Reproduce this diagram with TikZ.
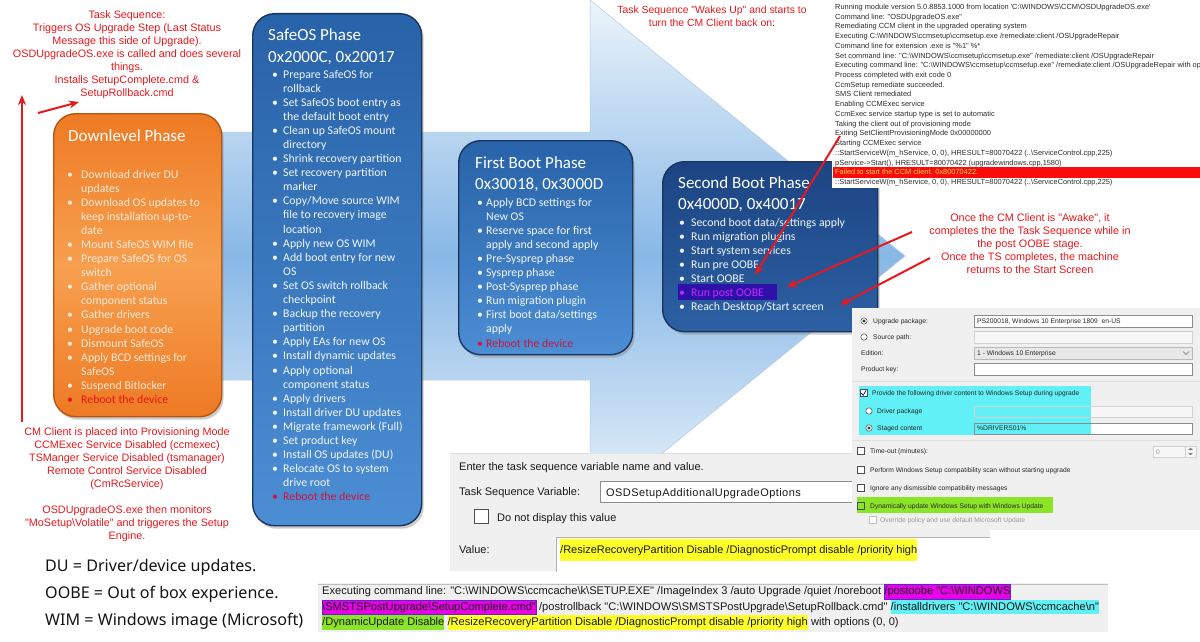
\documentclass[tikz,border=0pt]{standalone}
\usepackage{fontspec}
\setmainfont{Carlito}
\newfontfamily\arialf{Liberation Sans}
\newfontfamily\segoef{Noto Sans}
\usetikzlibrary{arrows.meta,shadows}
\definecolor{redc}{RGB}{230,25,30}
\definecolor{orgA}{RGB}{238,122,36}
\definecolor{orgB}{RGB}{247,160,80}
\definecolor{orgE}{RGB}{178,86,20}
\definecolor{bluA}{RGB}{40,98,168}
\definecolor{bluB}{RGB}{76,142,212}
\definecolor{bluE}{RGB}{26,52,92}
\definecolor{navA}{RGB}{28,68,130}
\definecolor{navB}{RGB}{44,96,164}
\definecolor{arrL}{RGB}{236,244,251}
\definecolor{arrM}{RGB}{136,184,230}
\definecolor{arrE}{RGB}{180,205,230}
\definecolor{boxtxt}{RGB}{242,247,253}
\definecolor{cream}{RGB}{253,233,215}
\definecolor{rebootB}{RGB}{205,20,60}
\definecolor{rebootO}{RGB}{232,20,24}
\definecolor{dlg}{RGB}{240,240,240}
\definecolor{hlY}{RGB}{255,255,40}
\definecolor{hlC}{RGB}{96,240,246}
\definecolor{hlG}{RGB}{140,228,40}
\definecolor{hlM}{RGB}{232,0,232}
\definecolor{hlMb}{RGB}{90,40,200}
\definecolor{postbg}{RGB}{46,18,168}
\definecolor{posttx}{RGB}{196,40,255}
\definecolor{failbar}{RGB}{250,12,12}
\definecolor{failtx}{RGB}{255,214,70}
\definecolor{logtx}{RGB}{45,45,45}
\newcommand{\bksl}{\textbackslash}
\newcommand{\bItem}[1]{\textbullet & #1\\}
\newcommand{\bCont}[1]{& #1\\}
\newcommand{\rItem}[2]{\textcolor{#1}{\textbullet} & \textcolor{#1}{#2}\\}
\newcommand{\bList}[2]{\begin{tabular}[t]{@{}p{#1}@{}l@{}}#2\end{tabular}}
\newcommand{\cCol}[1]{\begin{tabular}[t]{@{}c@{}}#1\end{tabular}}
\newcommand{\lCol}[1]{\begin{tabular}[t]{@{}l@{}}#1\end{tabular}}
\begin{document}
\begin{tikzpicture}[x=1pt,y=-1pt,
 phasebox/.style={rounded corners=22pt, line width=1.4pt, anchor=north west, inner sep=0, drop shadow={opacity=0.4, shadow xshift=2pt, shadow yshift=-3pt}},
 ttl/.style={anchor=base west, inner sep=0, text=white, font=\fontsize{17}{20.5}\selectfont},
 lst/.style={anchor=base west, inner sep=0, font=\fontsize{11.8}{14.1}\selectfont},
 rednote/.style={anchor=base, inner sep=0, text=redc, font=\arialf\fontsize{10.8}{12.9}\selectfont},
 redarrow/.style={draw=redc, line width=2pt, -{Stealth[length=10pt,width=8pt]}},
 logline/.style={anchor=base west, inner sep=0, text=logtx, font=\arialf\fontsize{7.4}{9.72}\selectfont},
 stx/.style={anchor=base west, inner sep=0, text=black!85, font=\arialf\fontsize{6.7}{8}\selectfont},
 tstx/.style={anchor=base west, inner sep=0, text=black!90, font=\arialf\fontsize{11}{16}\selectfont},
 blx/.style={anchor=base west, inner sep=0, text=black!90, font=\arialf\fontsize{11.1}{14.5}\selectfont},
 leg/.style={anchor=base west, inner sep=0, text=black!92, font=\segoef\fontsize{16.1}{18}\selectfont},
 rad/.style={draw=black!70, fill=white, line width=0.5pt},
 chk/.style={draw=black!70, fill=white, line width=0.5pt},
 tb/.style={draw=black!45, fill=white, line width=0.5pt},
 tbd/.style={draw=black!18, fill=black!3, line width=0.5pt},
 tbc/.style={draw=black!28, fill=black!9, line width=0.5pt}
]
\useasboundingbox (0,0) rectangle (1200,642);
\fill[white] (0,0) rectangle (1200,642);

% big process arrow
\path[top color=arrL, bottom color=arrL, middle color=arrM, draw=arrE, line width=0.5pt]
  (70,132) -- (590,132) -- (590,0) -- (905,256) -- (590,512) -- (590,380) -- (70,380) -- cycle;

% Downlevel phase
\node[phasebox, top color=orgA, bottom color=orgA, middle color=orgB, draw=orgE, minimum width=168pt, minimum height=303pt] (dlbox) at (53,113) {};
\node[ttl] (dlttl) at (68,141) {Downlevel Phase};
\node[lst, text=cream] (dllst) at (67,178) {\bList{14pt}{%
\bItem{Download driver DU}
\bCont{updates}
\bItem{Download OS updates to}
\bCont{keep installation up-to-}
\bCont{date}
\bItem{Mount SafeOS WIM file}
\bItem{Prepare SafeOS for OS}
\bCont{switch}
\bItem{Gather optional}
\bCont{component status}
\bItem{Gather drivers}
\bItem{Upgrade boot code}
\bItem{Dismount SafeOS}
\bItem{Apply BCD settings for}
\bCont{SafeOS}
\bItem{Suspend Bitlocker}
\rItem{rebootO}{Reboot the device}}};

% SafeOS phase
\node[phasebox, top color=bluA, bottom color=bluB, draw=bluE, minimum width=169pt, minimum height=512pt] (sfbox) at (252,13) {};
\node[ttl, font=\fontsize{17}{22}\selectfont] (sfttl) at (268,41) {\lCol{SafeOS Phase\\0x2000C, 0x20017}};
\node[lst, text=boxtxt] (sflst) at (272,78) {\bList{11pt}{%
\bItem{Prepare SafeOS for}
\bCont{rollback}
\bItem{Set SafeOS boot entry as}
\bCont{the default boot entry}
\bItem{Clean up SafeOS mount}
\bCont{directory}
\bItem{Shrink recovery partition}
\bItem{Set recovery partition}
\bCont{marker}
\bItem{Copy/Move source WIM}
\bCont{file to recovery image}
\bCont{location}
\bItem{Apply new OS WIM}
\bItem{Add boot entry for new}
\bCont{OS}
\bItem{Set OS switch rollback}
\bCont{checkpoint}
\bItem{Backup the recovery}
\bCont{partition}
\bItem{Apply EAs for new OS}
\bItem{Install dynamic updates}
\bItem{Apply optional}
\bCont{component status}
\bItem{Apply drivers}
\bItem{Install driver DU updates}
\bItem{Migrate framework (Full)}
\bItem{Set product key}
\bItem{Install OS updates (DU)}
\bItem{Relocate OS to system}
\bCont{drive root}
\rItem{rebootB}{Reboot the device}}};

% First boot phase
\node[phasebox, top color=bluA, bottom color=bluB, draw=bluE, minimum width=174pt, minimum height=214pt] (fbbox) at (458,140) {};
\node[ttl] (fbttl) at (475,168.5) {\lCol{First Boot Phase\\0x30018, 0x3000D}};
\node[lst, text=boxtxt] (fblst) at (477,206) {\bList{9pt}{%
\bItem{Apply BCD settings for}
\bCont{New OS}
\bItem{Reserve space for first}
\bCont{apply and second apply}
\bItem{Pre-Sysprep phase}
\bItem{Sysprep phase}
\bItem{Post-Sysprep phase}
\bItem{Run migration plugin}
\bItem{First boot data/settings}
\bCont{apply}
\rItem{rebootB}{Reboot the device}}};

% Second boot phase
\node[phasebox, top color=navA, bottom color=navB, draw=bluE, minimum width=215pt, minimum height=170pt] (sbbox) at (662,161) {};
\node[ttl] (sbttl) at (678,188.5) {\lCol{Second Boot Phase\\0x4000D, 0x40017}};
\fill[postbg] (678,284) rectangle (777,300);
\node[lst, text=boxtxt] (sblst) at (679,226) {\bList{12pt}{%
\bItem{Second boot data/settings apply}
\bItem{Run migration plugins}
\bItem{Start system services}
\bItem{Run pre OOBE}
\bItem{Start OOBE}
\rItem{posttx}{Run post OOBE}
\bItem{Reach Desktop/Start screen}}};

% log excerpt (top right)
\fill[white] (832,0) rectangle (1200,188);
\fill[failbar] (833,167) rectangle (1200,178);
\begin{scope}
\clip (832,0) rectangle (1200,188);
\node[logline] (log) at (835,9.5) {\lCol{%
Running module version 5.0.8853.1000 from location 'C:\bksl{}WINDOWS\bksl{}CCM\bksl{}OSDUpgradeOS.exe'\\
Command line: "OSDUpgradeOS.exe"\\
Remediating CCM client in the upgraded operating system\\
Executing C:\bksl{}WINDOWS\bksl{}ccmsetup\bksl{}ccmsetup.exe /remediate:client /OSUpgradeRepair\\
Command line for extension .exe is "\%1" \%*\\
Set command line: "C:\bksl{}WINDOWS\bksl{}ccmsetup\bksl{}ccmsetup.exe" /remediate:client /OSUpgradeRepair\\
Executing command line: "C:\bksl{}WINDOWS\bksl{}ccmsetup\bksl{}ccmsetup.exe" /remediate:client /OSUpgradeRepair with op\\
Process completed with exit code 0\\
CcmSetup remediate succeeded.\\
SMS Client remediated\\
Enabling CCMExec service\\
CcmExec service startup type is set to automatic\\
Taking the client out of provisioning mode\\
Exiting SetClientProvisioningMode 0x00000000\\
Starting CCMExec service\\
::StartServiceW(m\_hService, 0, 0), HRESULT=80070422 (..\bksl{}ServiceControl.cpp,225)\\
pService->Start(), HRESULT=80070422 (upgradewindows.cpp,1580)\\
\textcolor{failtx}{Failed to start the CCM client. 0x80070422.}\\
::StartServiceW(m\_hService, 0, 0), HRESULT=80070422 (..\bksl{}ServiceControl.cpp,225)}};
\end{scope}

% red notes
\node[rednote] (noteA) at (127,19) {\cCol{Task Sequence:\\Triggers OS Upgrade Step (Last Status\\Message this side of Upgrade).\\OSDUpgradeOS.exe is called and does several\\things.\\Installs SetupComplete.cmd \&\\SetupRollback.cmd}};
\node[rednote, font=\arialf\fontsize{10.8}{13}\selectfont] (noteB) at (127,435) {\cCol{CM Client is placed into Provisioning Mode\\CCMExec Service Disabled (ccmexec)\\TSManger Service Disabled (tsmanager)\\Remote Control Service Disabled\\(CmRcService)\\ \\OSDUpgradeOS.exe then monitors\\"MoSetup\bksl{}Volatile" and triggeres the Setup\\Engine.}};
\node[rednote, font=\arialf\fontsize{10.4}{13}\selectfont] (noteC) at (712,14) {\cCol{Task Sequence "Wakes Up" and starts to\\turn the CM Client back on:}};
\node[rednote, font=\arialf\fontsize{10.8}{13.2}\selectfont] (noteD) at (1030,221) {\cCol{Once the CM Client is "Awake", it\\completes the the Task Sequence while in\\the post OOBE stage.\\Once the TS completes, the machine\\returns to the Start Screen}};

% task sequence variable dialog
\fill[dlg] (450,453) rectangle (990,571);
\draw[black!12] (450,453) -- (990,453);
\node[tstx] (ts1) at (459,470) {Enter the task sequence variable name and value.};
\node[tstx] (ts2) at (459,495) {Task Sequence Variable:};
\draw[tb] (600,481) rectangle (870,502);
\node[tstx, font=\arialf\fontsize{11}{16}\addfontfeature{LetterSpace=4}] (ts2v) at (606,496) {OSDSetupAdditionalUpgradeOptions};
\draw[chk, line width=0.7pt] (474,509) rectangle (488,523);
\node[tstx] (ts3) at (497,521) {Do not display this value};
\node[tstx] (ts4) at (459,553) {Value:};
\fill[white] (556,537) rectangle (990,572);
\draw[black!30] (556,572) -- (556,537) -- (990,537);
\node[tstx] (tsval) at (560,553) {\colorbox{hlY}{\kern-3pt\strut /ResizeRecoveryPartition Disable /DiagnosticPrompt disable /priority high\kern-3pt}};

% upgrade OS step settings
\fill[dlg] (852,308) rectangle (1200,530);
\draw[rad] (864,321) circle (3.2pt); \fill[black!80] (864,321) circle (1.6pt);
\node[stx] (s1) at (873,323.5) {Upgrade package:};
\draw[tb] (974,315.5) rectangle (1192,327);
\node[stx] (s1v) at (977,323.5) {PS200018, Windows 10 Enterprise 1809\ \ en-US};
\draw[rad] (864,337) circle (3.2pt);
\node[stx] (s2) at (873,339.5) {Source path:};
\draw[tbd] (974,331.5) rectangle (1192,343);
\node[stx] (s3) at (861,355.5) {Edition:};
\draw[tbc] (974,347) rectangle (1192,359);
\node[stx] (s3v) at (977,355.5) {1 - Windows 10 Enterprise};
\draw[black!60, line width=0.5pt] (1183,351.5) -- (1186,354.5) -- (1189,351.5);
\node[stx] (s4) at (861,371.5) {Product key:};
\draw[tb] (974,363) rectangle (1192,375);
\draw[black!12] (852,381) -- (1200,381);
\draw[tbd] (974,406) rectangle (1192,417);
\draw[tb] (974,423) rectangle (1192,434);
\fill[hlC] (859,386) rectangle (1091,435);
\draw[black!18, line width=0.5pt] (974,406) rectangle (1192,417);
\draw[black!45, line width=0.5pt] (974,423) rectangle (1192,434);
\draw[chk] (860,389.5) rectangle (867,396.5);
\draw[blue!50!black, line width=0.7pt] (861.2,393) -- (863.2,395.3) -- (866,390.5);
\node[stx] (s5) at (872,395) {Provide the following driver content to Windows Setup during upgrade};
\draw[rad] (869,411) circle (3.2pt);
\node[stx] (s6) at (877,413.5) {Driver package};
\draw[rad] (869,428) circle (3.2pt); \fill[black!80] (869,428) circle (1.6pt);
\node[stx] (s7) at (877,430.5) {Staged content};
\node[stx] (s7v) at (977,430.5) {\%DRIVERS01\%};
\draw[black!12] (852,440) -- (1200,440);
\draw[chk] (857,447.5) rectangle (864,454.5);
\node[stx] (s8) at (870,453.5) {Time-out (minutes):};
\draw[tbd] (1153,446) rectangle (1196,457);
\node[stx, text=black!40] (s8v) at (1156,454) {0};
\draw[black!20] (1185,446) -- (1185,457);
\fill[black!50] (1188,450) -- (1190.5,447.8) -- (1193,450) -- cycle;
\fill[black!50] (1188,453) -- (1190.5,455.2) -- (1193,453) -- cycle;
\draw[chk] (857,466.5) rectangle (864,473.5);
\node[stx] (s9) at (870,472.5) {Perform Windows Setup compatibility scan without starting upgrade};
\draw[chk] (857,484.5) rectangle (864,491.5);
\node[stx] (s10) at (870,490.5) {Ignore any dismissible compatibility messages};
\fill[hlG] (857,497) rectangle (1053,513);
\draw[black!70, line width=0.5pt] (857,502) rectangle (864,509);
\node[stx] (s11) at (870,508.5) {Dynamically update Windows Setup with Windows Update};
\draw[black!25, fill=white, line width=0.5pt] (869,516.5) rectangle (876,523.5);
\node[stx, text=black!40] (s12) at (880,522.5) {Override policy and use default Microsoft Update};

% bottom log line
\fill[dlg] (318,583) rectangle (1108,632);
\draw[black!25, line width=1pt] (318,584) -- (1108,584);
\node[blx] (b1a) at (322,594.5) {\strut Executing command line: "C:\bksl{}WINDOWS\bksl{}ccmcache\bksl{}k\bksl{}SETUP.EXE" /ImageIndex 3 /auto Upgrade /quiet /noreboot};
\node[blx, fill=hlM, draw=hlMb] (b1b) at ([xshift=2.8pt]b1a.base east) {\strut /postoobe "C:\bksl{}WINDOWS};
\node[blx, fill=hlM, draw=hlMb] (b2a) at (322,610) {\strut \bksl{}SMSTSPostUpgrade\bksl{}SetupComplete.cmd"};
\node[blx] (b2b) at ([xshift=2.8pt]b2a.base east) {\strut /postrollback "C:\bksl{}WINDOWS\bksl{}SMSTSPostUpgrade\bksl{}SetupRollback.cmd"};
\node[blx, fill=hlC] (b2c) at ([xshift=2.8pt]b2b.base east) {\strut /installdrivers "C:\bksl{}WINDOWS\bksl{}ccmcache\bksl{}n"};
\node[blx, fill=hlG] (b3a) at (322,625.5) {\strut /DynamicUpdate Disable};
\node[blx, fill=hlY] (b3b) at ([xshift=2.8pt]b3a.base east) {\strut /ResizeRecoveryPartition Disable /DiagnosticPrompt disable /priority high};
\node[blx] (b3c) at ([xshift=2.8pt]b3b.base east) {\strut with options (0, 0)};

% legend
\node[leg] (lg1) at (45,571.5) {DU = Driver/device updates.};
\node[leg] (lg2) at (45,598.5) {OOBE = Out of box experience.};
\node[leg] (lg3) at (45,625.5) {WIM = Windows image (Microsoft)};

% red arrows
\coordinate (a1s) at (22,422); \coordinate (a1e) at (22,95);
\coordinate (a2s) at (38,113); \coordinate (a2e) at (79,102);
\coordinate (a3s) at (840,136); \coordinate (a3e) at (755,275);
\coordinate (a4s) at (912,232); \coordinate (a4e) at (787,287);
\coordinate (a5s) at (930,258); \coordinate (a5e) at (840,305);
\draw[redarrow] (a1s) -- (a1e);
\draw[redarrow] (a2s) -- (a2e);
\draw[redarrow] (a3s) -- (a3e);
\draw[redarrow] (a4s) -- (a4e);
\draw[redarrow] (a5s) -- (a5e);
\end{tikzpicture}
\end{document}
